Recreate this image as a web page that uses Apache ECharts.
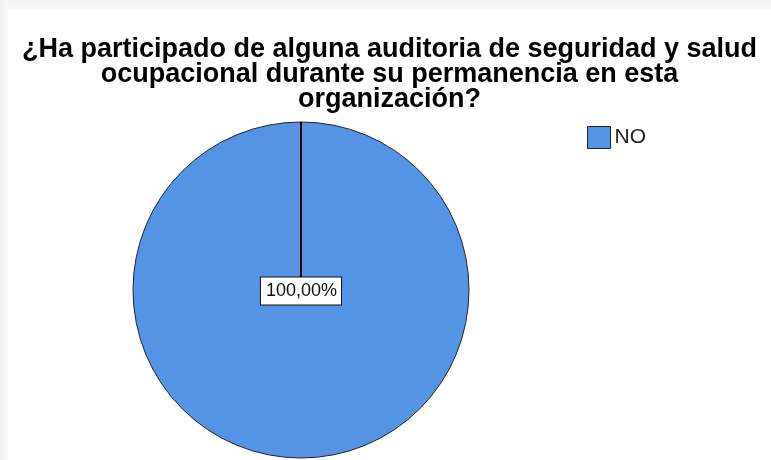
<!DOCTYPE html>
<html>
<head>
<meta charset="utf-8">
<script src="https://cdn.jsdelivr.net/npm/echarts@6/dist/echarts.min.js"></script>
<style>
  html, body { margin: 0; padding: 0; }
  body {
    width: 771px; height: 460px; overflow: hidden;
    background: linear-gradient(to bottom, #f2f2f2 0px, #fafafa 10px, #ffffff 10px);
  }
  #frame {
    position: absolute; left: 0; top: 0; width: 8px; height: 460px;
    background: linear-gradient(to right, #f0f0f0, #fafafa);
  }
  #pie {
    position: absolute; left: 8px; top: 10px;
    width: 763px; height: 450px; background: #ffffff;
  }
</style>
</head>
<body>
<div id="frame"></div>
<div id="pie"></div>
<script>
  // datos
  let titleText = '¿Ha participado de alguna auditoria de seguridad y salud\nocupacional durante su permanencia en esta\norganización?'
  let categories = ['NO']
  let values = [100]
  let colors = ['#5594e4']

  let pieData = categories.map((c, i) => ({ name: c, value: values[i] }))
  let pieRadius = 168
  let pieCenter = [293, 280]

  let myChart = echarts.init(document.getElementById('pie'))
  myChart.setOption({
    animation: false,
    title: {
      text: titleText,
      left: 'center',
      top: 22,
      textStyle: {
        fontFamily: 'Liberation Sans',
        fontSize: 27,
        fontWeight: 'bold',
        lineHeight: 25,
        color: '#000'
      }
    },
    legend: {
      show: true,
      orient: 'vertical',
      left: 574,
      top: 111,
      itemWidth: 23,
      itemHeight: 22,
      icon: 'rect',
      itemStyle: { borderColor: '#222', borderWidth: 1 },
      textStyle: { fontFamily: 'Liberation Sans', fontSize: 21, color: '#222', padding: [0, 0, 0, -1] },
      data: categories
    },
    color: colors,
    series: [{
      // el circulo
      name: 'auditoria',
      type: 'pie',
      z: 2,
      radius: pieRadius,
      center: pieCenter,
      silent: true,
      data: pieData,
      itemStyle: { borderColor: '#222', borderWidth: 1 },
      label: { show: false },
      labelLine: { show: false }
    }, {
      // la etiqueta con su linea, encima del circulo
      name: 'etiqueta',
      type: 'pie',
      z: 10,
      radius: pieRadius,
      center: pieCenter,
      silent: true,
      avoidLabelOverlap: false,
      data: pieData,
      itemStyle: { color: 'rgba(0,0,0,0)', borderWidth: 0 },
      label: {
        show: true,
        position: 'outside',
        formatter: p => p.percent.toFixed(2).replace('.', ',') + '%',
        fontFamily: 'Liberation Sans',
        fontSize: 18,
        color: '#111',
        backgroundColor: '#ffffff',
        borderColor: '#111',
        borderWidth: 1,
        padding: [5, 4, 4, 5]
      },
      labelLine: {
        show: true,
        length: 10,
        length2: 0,
        lineStyle: { color: '#000', width: 2, opacity: 1 }
      },
      labelLayout: function (params) {
        let r = params.rect
        let cx = r.x + r.width / 2
        let cy = r.y + r.height / 2
        return {
          x: cx,
          y: cy + 1,
          align: 'center',
          verticalAlign: 'middle',
          labelLinePoints: [[cx, r.y], [cx, cy]]
        }
      }
    }]
  })
</script>
</body>
</html>
